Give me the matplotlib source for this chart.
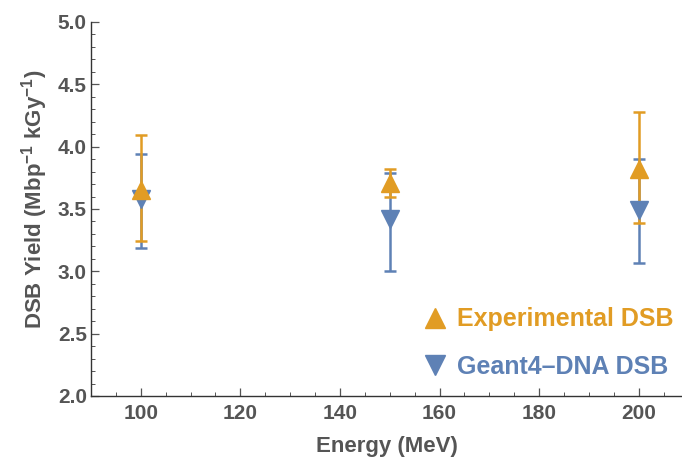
import matplotlib.pyplot as plt
from matplotlib.lines import Line2D
from matplotlib.ticker import MultipleLocator

plt.rcParams['font.family'] = ['Liberation Sans', 'DejaVu Sans']
plt.rcParams['mathtext.fontset'] = 'custom'
plt.rcParams['mathtext.rm'] = 'Liberation Sans'
plt.rcParams['mathtext.bf'] = 'Liberation Sans:bold'

energy = [100, 150, 200]

exp_dsb = [3.65, 3.71, 3.82]
exp_err_lo = [3.24, 3.60, 3.39]
exp_err_hi = [4.09, 3.82, 4.28]

g4_dsb = [3.58, 3.42, 3.49]
g4_err_lo = [3.19, 3.00, 3.07]
g4_err_hi = [3.94, 3.79, 3.90]

orange = '#E19C24'
blue = '#5E81B5'
grey = '#555555'

fig = plt.figure(figsize=(6.82, 4.57), dpi=100)
ax = fig.add_axes([0.1334, 0.1335, 0.8666, 0.8184])

g4_yerr = [[v - lo for v, lo in zip(g4_dsb, g4_err_lo)],
           [hi - v for v, hi in zip(g4_dsb, g4_err_hi)]]
exp_yerr = [[v - lo for v, lo in zip(exp_dsb, exp_err_lo)],
            [hi - v for v, hi in zip(exp_dsb, exp_err_hi)]]

ax.errorbar(energy, g4_dsb, yerr=g4_yerr, fmt='v', color=blue, ms=13,
            elinewidth=1.8, capsize=4, capthick=1.8)
ax.errorbar(energy, exp_dsb, yerr=exp_yerr, fmt='^', color=orange, ms=13,
            elinewidth=1.8, capsize=4, capthick=1.8)

ax.set_xlim(90, 208.7)
ax.set_ylim(2.0, 5.0)
ax.xaxis.set_major_locator(MultipleLocator(20))
ax.xaxis.set_minor_locator(MultipleLocator(5))
ax.yaxis.set_major_locator(MultipleLocator(0.5))
ax.yaxis.set_minor_locator(MultipleLocator(0.1))
ax.yaxis.set_major_formatter(plt.FormatStrFormatter('%.1f'))

for side in ['top', 'right']:
    ax.spines[side].set_visible(False)
for side in ['left', 'bottom']:
    ax.spines[side].set_color('#333333')
    ax.spines[side].set_linewidth(1.0)

ax.tick_params(which='both', direction='in', color='#555555')
ax.tick_params(which='major', length=6, width=0.9, labelsize=15,
               labelcolor=grey)
ax.tick_params(axis='y', which='major', pad=3)
ax.tick_params(axis='x', which='major', pad=6)
ax.tick_params(which='minor', length=3, width=0.7)
for lbl in ax.get_xticklabels() + ax.get_yticklabels():
    lbl.set_fontweight('bold')

ax.set_xlabel('Energy (MeV)', fontsize=16, fontweight='bold', color=grey,
              labelpad=9)
ax.set_ylabel('DSB Yield (Mbp$^{\\mathbf{-1}}$ kGy$^{\\mathbf{-1}}$)',
              fontsize=16, fontweight='bold', color=grey)
ax.yaxis.set_label_coords(-0.07, 0.525)

# legend with marker-only handles
handles = [Line2D([], [], ls='none', marker='^', color=orange, ms=14),
           Line2D([], [], ls='none', marker='v', color=blue, ms=14)]
labels = ['Experimental DSB', 'Geant4\u2013DNA DSB']
leg = ax.legend(handles, labels, loc='lower right',
                bbox_to_anchor=(0.985, 0.045), frameon=False,
                prop={'weight': 'bold', 'size': 18},
                handletextpad=0.25, labelspacing=0.95, handlelength=1.2,
                borderpad=0, borderaxespad=0)
for txt, c in zip(leg.get_texts(), [orange, blue]):
    txt.set_color(c)

fig.savefig('out.png', dpi=100)
